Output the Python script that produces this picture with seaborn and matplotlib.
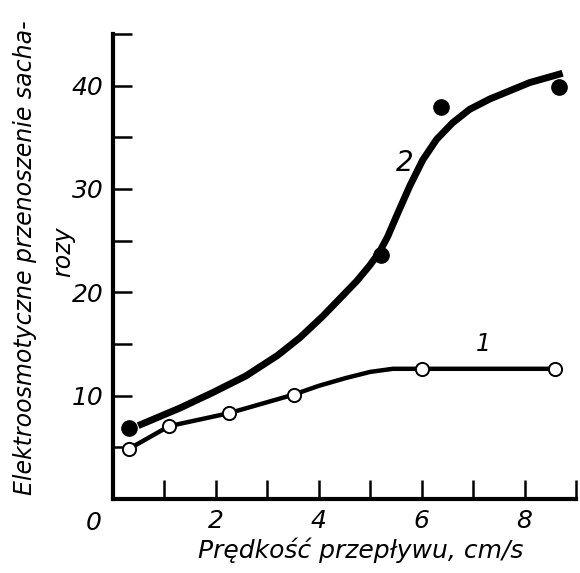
import matplotlib
matplotlib.use("Agg")
import matplotlib.pyplot as plt
import seaborn as sns

# ---- data ----
x1_pts = [0.31, 1.09, 2.25, 3.51, 6.0, 8.6]
y1_pts = [4.85, 7.05, 8.3, 10.1, 12.6, 12.6]
x2_pts = [0.31, 5.2, 6.37, 8.66]
y2_pts = [6.9, 23.6, 37.9, 39.9]

curve1_x = [0.31, 1.09, 2.25, 3.51, 4.0, 4.52, 5.0, 5.44, 6.0, 8.6]
curve1_y = [4.85, 7.05, 8.3, 10.1, 10.95, 11.7, 12.3, 12.6, 12.6, 12.6]
curve2_x = [0.49, 1.30, 1.94, 2.58, 3.20, 3.63, 4.08, 4.41, 4.74, 4.99, 5.18,
            5.34, 5.53, 5.77, 6.02, 6.29, 6.60, 6.93, 7.32, 7.71, 8.10, 8.74]
curve2_y = [7.1, 8.8, 10.3, 11.9, 13.9, 15.6, 17.7, 19.4, 21.1, 22.6, 23.9,
            25.4, 27.6, 30.3, 32.8, 34.8, 36.4, 37.7, 38.7, 39.5, 40.3, 41.2]

x_major = [0, 2, 4, 6, 8]
x_major_labels = ["", "2", "4", "6", "8"]
x_minor = [1, 3, 5, 7, 9]
y_major = [10, 20, 30, 40]
y_major_labels = ["10", "20", "30", "40"]
y_minor = [5, 15, 25, 35, 45]

xlabel = "Prędkość przepływu, cm/s"
ylabel_line1 = "Elektroosmotyczne przenoszenie sacha-"
ylabel_line2 = "rozy"

sns.set_style("white")
plt.rcParams["font.family"] = ["DejaVu Sans"]
plt.rcParams["font.style"] = "italic"
plt.rcParams["text.color"] = "black"
plt.rcParams["xtick.color"] = "black"
plt.rcParams["ytick.color"] = "black"
plt.rcParams["xtick.labelcolor"] = "black"
plt.rcParams["ytick.labelcolor"] = "black"

fig = plt.figure(figsize=(5.8, 5.73), dpi=100)
ax = fig.add_axes([113 / 580, 1 - 499 / 573, (576 - 113) / 580, (499 - 34) / 573])

sns.lineplot(x=curve2_x, y=curve2_y, sort=False, estimator=None, ax=ax,
             color="black", linewidth=5.0, solid_capstyle="butt",
             solid_joinstyle="round")
sns.lineplot(x=curve1_x, y=curve1_y, sort=False, estimator=None, ax=ax,
             color="black", linewidth=3.2, solid_capstyle="butt",
             solid_joinstyle="round")
ax.plot(x2_pts, y2_pts, linestyle="none", marker="o", markersize=11,
        markerfacecolor="black", markeredgecolor="black", zorder=5)
ax.plot(x1_pts, y1_pts, linestyle="none", marker="o", markersize=9.5,
        markerfacecolor="white", markeredgecolor="black", markeredgewidth=1.4, zorder=5)

ax.set_xlim(0, 9)
ax.set_ylim(0, 45)
ax.set_xticks(x_major)
ax.set_xticklabels(x_major_labels)
ax.set_xticks(x_minor, minor=True)
ax.set_yticks(y_major)
ax.set_yticklabels(y_major_labels)
ax.set_yticks(y_minor, minor=True)

for s in ["top", "right"]:
    ax.spines[s].set_visible(False)
for s in ["left", "bottom"]:
    ax.spines[s].set_linewidth(3)
    ax.spines[s].set_color("black")

ax.tick_params(which="both", direction="in", length=14, width=1.8,
               color="black", bottom=True, left=True, top=False, right=False)
ax.tick_params(axis="both", which="major", labelsize=18, pad=7,
               labelcolor="black")

ax.text(-0.37, -1.2, "0", fontsize=18, ha="center", va="top", color="black")

fig.text(361 / 580, 1 - 550 / 573, xlabel, fontsize=18, ha="center",
         va="center", color="black")
fig.text(25 / 580, 1 - 258 / 573, ylabel_line1, rotation=90, fontsize=17,
         ha="center", va="center", color="black")
fig.text(63 / 580, 1 - 252 / 573, ylabel_line2, rotation=90, fontsize=17,
         ha="center", va="center", color="black")

ax.text(7.2, 15.0, "1", fontsize=17, ha="center", va="center", color="black")
ax.text(5.67, 32.5, "2", fontsize=20, ha="center", va="center", color="black")

fig.savefig("out.png", dpi=100)
